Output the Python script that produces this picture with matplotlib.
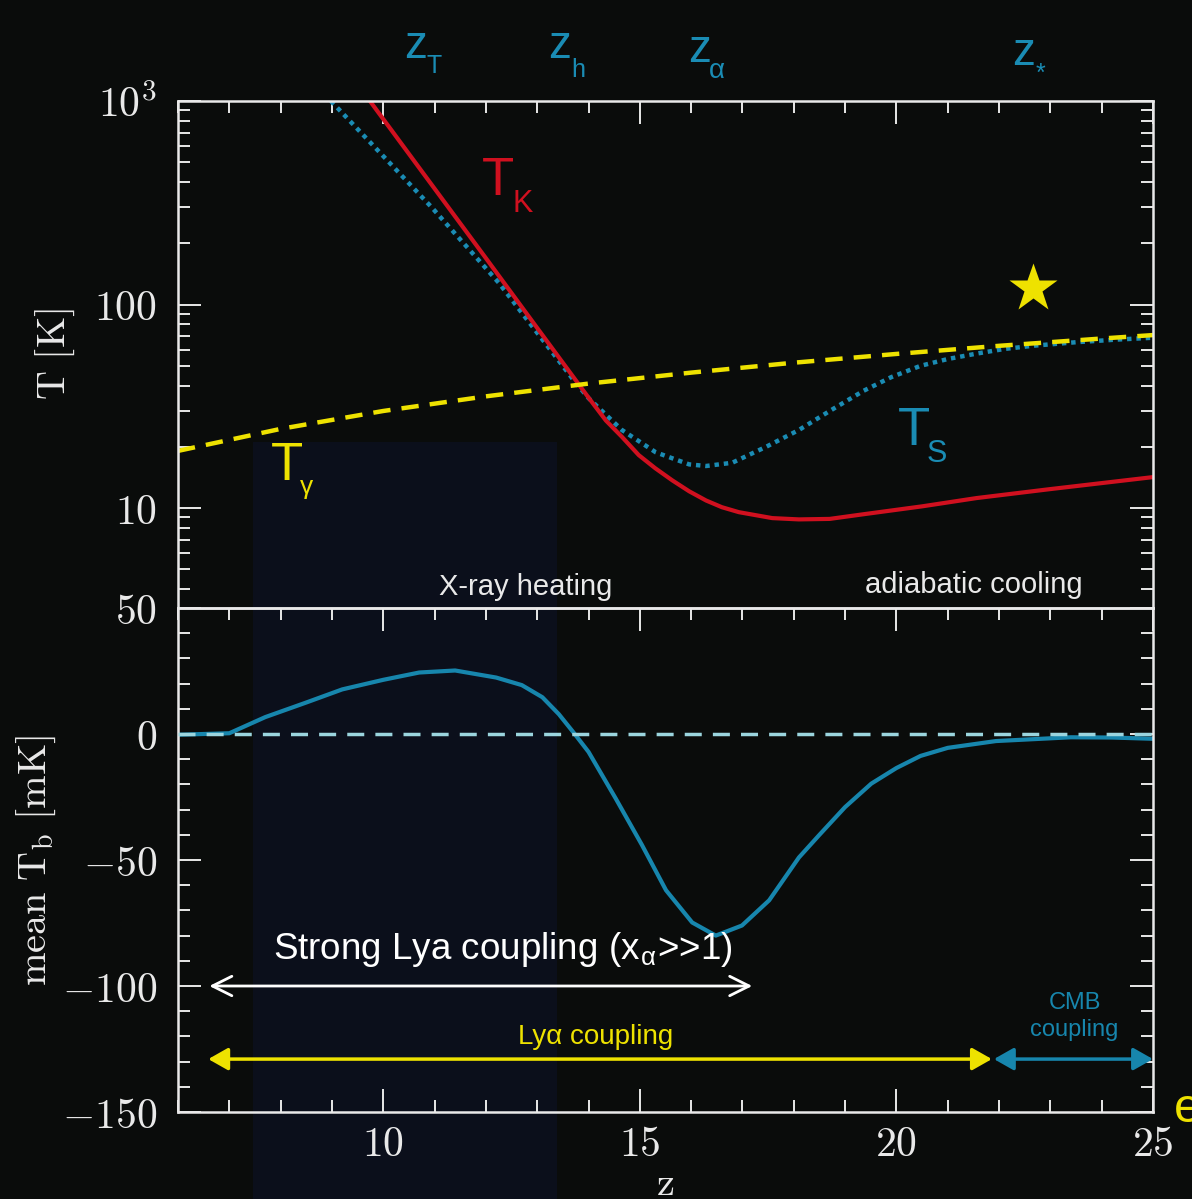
import matplotlib.pyplot as plt
import matplotlib.transforms as mtransforms
from matplotlib.patches import Rectangle
from matplotlib.ticker import MultipleLocator, LogLocator, NullFormatter

# ── Temperatures (K) vs redshift ─────────────────────────────────────────────
z_gamma = [6, 8, 10, 12, 14, 16, 18, 20, 22, 24, 25]
t_gamma = [19.1, 24.5, 30.0, 35.4, 40.9, 46.3, 51.8, 57.2, 62.7, 68.1, 70.8]

z_kin = [9.74, 11.0, 12.0, 13.0, 14.0, 14.34, 14.65, 14.98, 15.3, 15.63,
         15.96, 16.29, 16.6, 16.93, 17.58, 18.1, 18.7, 19.36, 20.5, 21.56,
         23.0, 25.0]
t_kin = [1000, 371, 169, 76.7, 34.9, 26.9, 22.4, 18.2, 15.7, 13.7,
         12.1, 10.9, 10.1, 9.55, 8.93, 8.80, 8.85, 9.33, 10.2, 11.2,
         12.4, 14.2]

z_spin = [8.98, 10.0, 10.94, 12.25, 13.03, 13.42, 13.71, 14.0, 14.65, 15.31,
          15.96, 16.29, 16.8, 17.46, 18.1, 18.7, 19.36, 19.9, 20.47, 21.0,
          21.56, 22.1, 22.68, 23.5, 24.3, 25.0]
t_spin = [1000, 536, 301, 128, 71, 53, 42.5, 34.7, 24.2, 18.8,
          16.4, 16.1, 16.7, 20.0, 24.2, 30.0, 37.7, 44.0, 50.0, 54.0,
          57.4, 60.5, 62.8, 65.3, 67.3, 68.7]

# ── Mean brightness temperature (mK) ─────────────────────────────────────────
z_tb = [6.0, 7.0, 7.7, 8.5, 9.2, 10.0, 10.7, 11.4, 12.2, 12.7, 13.1, 13.42,
        13.7, 14.0, 14.53, 15.04, 15.51, 16.02, 16.48, 16.99, 17.52, 18.1,
        18.5, 19.0, 19.51, 20.0, 20.47, 21.0, 21.94, 23.4, 24.2, 25.0]
tb_mean = [-0.3, 0.3, 6.7, 12.5, 17.7, 21.5, 24.4, 25.2, 22.4, 19.4, 14.6, 7.9,
           0.8, -7.1, -25.6, -44.0, -62.0, -74.8, -80.0, -76.0, -66.0, -49.0,
           -40.0, -29.0, -19.7, -13.5, -8.7, -5.5, -2.8, -1.3, -1.4, -1.9]

# epochs / regimes
XRAY_Z = (7.47, 13.39)
XRAY_TOP = 21.2
STAR_Z, STAR_T = 22.67, 120
STRONG_LYA = (6.61, 17.19, -100)
LYA_RANGE = (6.59, 21.86, -129)
CMB_RANGE = (21.9, 25.0, -129)

BG = "#0a0c0b"
FG = "#e9e9e9"
RED = "#d0101f"
BLUE = "#1a8cb4"
TB_BLUE = "#1786ad"
YELLOW = "#eee200"
SHADE = "#0b0f1b"

plt.rcParams["font.family"] = ["Liberation Sans", "DejaVu Sans"]
plt.rcParams["mathtext.fontset"] = "cm"

fig = plt.figure(figsize=(11.92, 11.99), dpi=100, facecolor=BG)
ax_t = fig.add_axes([0.14933, 0.49291, 0.81795, 0.42285])
ax_b = fig.add_axes([0.14933, 0.07256, 0.81795, 0.42035])

for ax in (ax_t, ax_b):
    ax.set_facecolor("none")
    ax.set_xlim(6, 25)
    for s in ax.spines.values():
        s.set_color(FG)
        s.set_linewidth(1.8)
    ax.xaxis.set_major_locator(MultipleLocator(5))
    ax.xaxis.set_minor_locator(MultipleLocator(1))
    ax.tick_params(which="both", direction="in", top=True, right=True,
                   colors=FG, width=1.4, labelsize=30)
    ax.tick_params(which="major", length=16.5)
    ax.tick_params(which="minor", length=8.3)
    ax.tick_params(axis="y", pad=15)
    ax.tick_params(axis="x", pad=9)

# top panel: temperatures
ax_t.set_yscale("log")
ax_t.set_ylim(3.23, 1000)
ax_t.set_yticks([10, 100, 1000], labels=[r"$10$", r"$100$", r"$10^3$"])
ax_t.yaxis.set_minor_locator(LogLocator(subs=range(2, 10)))
ax_t.yaxis.set_minor_formatter(NullFormatter())
ax_t.tick_params(axis="x", which="both", bottom=False, labelbottom=False)
ax_t.set_ylabel(r"$\mathrm{T\ [K]}$", fontsize=29, color=FG)
ax_t.yaxis.set_label_coords(-0.1035, 0.5)

ax_t.plot(z_spin, t_spin, color=BLUE, lw=3.2, dashes=(1.0, 1.1))
ax_t.plot(z_kin, t_kin, color=RED, lw=3.0)
ax_t.plot(z_gamma, t_gamma, color=YELLOW, lw=3.2, dashes=(3.9, 2.5))
ax_t.plot(STAR_Z, STAR_T, marker="*", ms=36.6, color=YELLOW, mec="none")

ax_t.text(11.92, 345, "T", color=RED, fontsize=38)
ax_t.text(12.51, 285, "K", color=RED, fontsize=22)
ax_t.text(7.81, 13.7, "T", color=YELLOW, fontsize=38)
ax_t.text(8.37, 11.7, "γ", color=YELLOW, fontsize=19)
ax_t.text(20.02, 20.4, "T", color=BLUE, fontsize=38)
ax_t.text(20.58, 16.8, "S", color=BLUE, fontsize=22)

ax_t.text(12.78, 0.026, "X-ray heating", transform=ax_t.get_xaxis_transform(),
          color=FG, fontsize=21, ha="center")
ax_t.text(19.39, 0.030, "adiabatic cooling", transform=ax_t.get_xaxis_transform(),
          color=FG, fontsize=21)

# characteristic redshifts above the frame
top_trans = ax_t.get_xaxis_transform()
z_marks = [(10.40, 1.0848, 10.85, 1.0552, "T", 18),
           (13.21, 1.0848, 13.66, 1.0473, "h", 18),
           (15.94, 1.0769, 16.34, 1.0454, "α", 20),
           (22.26, 1.0710, 22.71, 1.0394, "*", 18)]
for zx, zy, sx, sy, sub, size in z_marks:
    ax_t.text(zx, zy, "z", transform=top_trans, color=BLUE, fontsize=33,
              clip_on=False)
    ax_t.text(sx, sy, sub, transform=top_trans, color=BLUE, fontsize=size,
              clip_on=False)

# bottom panel: mean brightness temperature
ax_b.set_ylim(-150, 50)
ax_b.set_yticks([-150, -100, -50, 0, 50],
                labels=[r"$-150$", r"$-100$", r"$-50$", r"$0$", r"$50$"])
ax_b.yaxis.set_minor_locator(MultipleLocator(10))
ax_b.set_xticks([10, 15, 20, 25],
                labels=[r"$10$", r"$15$", r"$20$", r"$25$"])
ax_b.set_ylabel(r"$\mathrm{mean\ T_b\ [mK]}$", fontsize=29, color=FG)
ax_b.yaxis.set_label_coords(-0.123, 0.5)
ax_b.set_xlabel(r"$\mathrm{z}$", fontsize=29, color=FG)
ax_b.xaxis.set_label_coords(0.5, -0.106)

ax_b.plot(z_tb, tb_mean, color=TB_BLUE, lw=3.0)
ax_b.axhline(0, color="#9bd5de", lw=2.5, dashes=(4.9, 3.2), zorder=3)

ax_b.annotate("", xy=(STRONG_LYA[1], STRONG_LYA[2]),
              xytext=(STRONG_LYA[0], STRONG_LYA[2]),
              arrowprops=dict(arrowstyle="<->,head_length=0.7,head_width=0.35",
                              color="white", lw=2, shrinkA=0, shrinkB=0,
                              mutation_scale=20))
ax_b.text(7.86, -89.3, r"Strong Lya coupling (x$_{\mathregular{α}}$>>1)",
          color="white", fontsize=26.5)

ax_b.annotate("", xy=(LYA_RANGE[1], LYA_RANGE[2]),
              xytext=(LYA_RANGE[0], LYA_RANGE[2]),
              arrowprops=dict(arrowstyle="<|-|>,head_length=0.6,head_width=0.34",
                              color=YELLOW, lw=2.5, shrinkA=0, shrinkB=0,
                              mutation_scale=20))
ax_b.text(14.13, -123, "Lyα coupling", color=YELLOW, fontsize=20, ha="center")

ax_b.annotate("", xy=(CMB_RANGE[1], CMB_RANGE[2]),
              xytext=(CMB_RANGE[0], CMB_RANGE[2]),
              arrowprops=dict(arrowstyle="<|-|>,head_length=0.6,head_width=0.34",
                              color=TB_BLUE, lw=2.5, shrinkA=0, shrinkB=0,
                              mutation_scale=20),
              annotation_clip=False)
ax_b.text(23.47, -109.1, "CMB", color=TB_BLUE, fontsize=17, ha="center")
ax_b.text(23.47, -119.8, "coupling", color=TB_BLUE, fontsize=17, ha="center")

# X-ray heating band, running from the top panel down past the frame
band_trans = mtransforms.blended_transform_factory(ax_b.transData, fig.transFigure)
band_top = fig.transFigure.inverted().transform(
    ax_t.transData.transform((10, XRAY_TOP)))[1]
fig.add_artist(Rectangle((XRAY_Z[0], 0), XRAY_Z[1] - XRAY_Z[0], band_top,
                         transform=band_trans, facecolor=SHADE,
                         edgecolor="none", zorder=-1))

fig.text(0.985, 0.064, "e", color=YELLOW, fontsize=35)

fig.savefig("out.png", dpi=100, facecolor=BG)
